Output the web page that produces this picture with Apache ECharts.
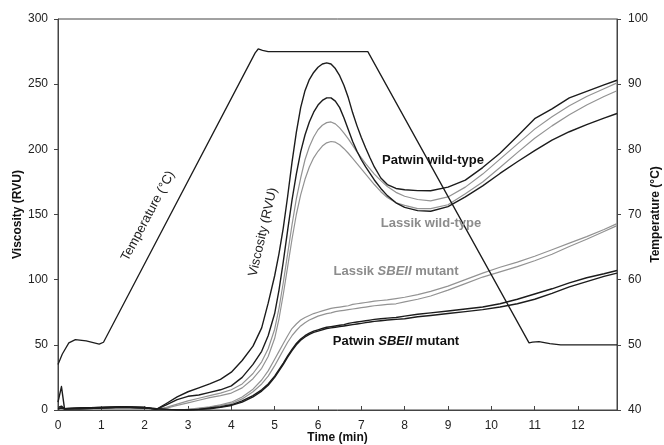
<!DOCTYPE html>
<html>
<head>
<meta charset="utf-8">
<script src="https://cdn.jsdelivr.net/npm/echarts@6/dist/echarts.min.js"></script>
<style>html,body{margin:0;padding:0;background:#fff}#c{width:664px;height:445px}</style>
</head>
<body>
<div id="c"></div>
<script>
// ---------- data ----------
const timeMin = [0, 0.08, 0.15, 0.5, 1.0, 1.5, 2.0, 2.27, 2.5, 2.75,
  3.0, 3.25, 3.5, 3.75, 4.0, 4.25, 4.5, 4.7, 4.85, 5.0,
  5.1, 5.2, 5.3, 5.4, 5.5, 5.6, 5.7, 5.8, 5.9, 6.0,
  6.1, 6.2, 6.3, 6.4, 6.5, 6.6, 6.7, 6.8, 6.9, 7.0,
  7.1, 7.2, 7.3, 7.45, 7.6, 7.8, 8.0, 8.3, 8.6, 9.0,
  9.4, 9.8, 10.2, 10.6, 11.0, 11.4, 11.8, 12.2, 12.6, 12.9];

const patwinWT1 = [6, 18, 1, 1.5, 2, 2.5, 2, 0.5, 5, 10,
  14, 17, 20, 23.5, 29, 38, 49, 63, 82, 103,
  120, 140, 164, 190, 213, 232, 245, 253.5, 259, 263,
  265.5, 266.3, 265.5, 262, 256.5, 249, 239.5, 228, 218, 209,
  201, 193.5, 186.5, 178, 173, 170, 169, 168.3, 168.2, 171,
  176.4, 186, 197, 210, 223.5, 231, 239.5, 244.5, 249.5, 253];

const patwinWT2 = [2, 3, 1, 1.5, 2, 2.5, 2, 0.5, 4, 8,
  10.5, 11.5, 13.5, 15.5, 18.5, 25, 35, 45, 57, 74,
  92, 114, 138, 161, 181, 198, 211, 221, 228.5, 234,
  237.5, 239.5, 239.5, 237, 232, 224, 215, 206, 198.5, 192,
  186.5, 181.5, 176.5, 170, 164.5, 159, 155.5, 153, 152.5, 156,
  163.5, 172, 181.5, 190.5, 199, 207, 213.5, 219, 224, 227.5];

const lassikWT1 = [2, 2, 1, 1.5, 2, 2.5, 2, 0.5, 2, 4.5,
  7, 9, 11, 13, 15.5, 20, 28, 37, 47, 62,
  78, 98, 120, 142, 162, 178, 192, 202, 209.5, 215,
  218.5, 220.5, 221, 219.5, 216.5, 212.5, 208, 203, 198, 193.5,
  189, 185, 181, 176, 171.5, 167, 164, 161.5, 160.5, 163.5,
  171, 181, 192.5, 204, 215.5, 225, 233.5, 240.5, 246.5, 251];

const lassikWT2 = [2, 2, 1, 1.5, 2, 2.5, 2, 0.5, 1.5, 3.5,
  5.5, 7.5, 9.5, 11, 13, 17, 24, 32, 41, 55,
  70, 89, 110, 131, 150, 165, 177, 186.5, 193.5, 198.5,
  202.5, 205, 206, 205.5, 203.5, 200.5, 197, 193, 189, 185,
  181, 177, 173, 167.5, 163, 159, 157, 154.5, 154.5, 157.5,
  166, 175, 186, 197.5, 208.5, 218, 226.5, 234, 240.5, 245];

const lassikSBE1 = [1, 1.5, 1, 1, 1.5, 2, 1.5, 1, 0.5, 0,
  0.5, 1.5, 2.5, 4, 6, 10, 16, 23, 30, 39,
  45, 51, 57, 62.5, 66, 69, 71, 72.5, 74, 75,
  76, 77, 78, 78.5, 79, 79.5, 80, 81, 81.5, 82,
  82.5, 83, 83.5, 84, 84.5, 85.5, 86.5, 88.5, 91, 95,
  100, 105, 109.5, 113.5, 118, 123, 128, 133, 138.5, 143];

const lassikSBE2 = [1, 1.5, 1, 1, 1.5, 2, 1.5, 1, 0.5, 0,
  0.5, 1, 2, 3.5, 5, 8.5, 14, 20, 26, 34,
  40, 46, 52, 57, 61, 64.5, 67, 69, 70.5, 72,
  73, 74, 74.5, 75.5, 76, 76.5, 77, 77.5, 78, 78.5,
  79, 79.5, 80, 80.5, 81, 81.5, 83, 85, 87.5, 92,
  97, 102, 106, 110, 114.5, 119.5, 125.5, 131, 137, 141.5];

const patwinSBE1 = [1, 1.5, 1, 1, 1.5, 2, 1.5, 1, 0.5, 0,
  0, 0.5, 1.5, 2.5, 4, 7, 11, 15.5, 20, 26,
  31, 36, 41.5, 46.5, 51, 54.5, 57, 59, 60.5, 61.5,
  62.5, 63.5, 64, 64.5, 65, 65.5, 66.5, 67, 67.5, 68,
  68.5, 69, 69.5, 70, 70.5, 71, 72, 73.5, 74.5, 76,
  77.5, 79, 81.5, 85, 89, 93, 97.5, 101.5, 104.5, 107];

const patwinSBE2 = [1, 1.5, 1, 1, 1.5, 2, 1.5, 1, 0.5, 0,
  0, 0.5, 1, 2, 3.5, 6, 10, 14.5, 19, 25,
  30, 35, 40.5, 45.5, 50, 53.5, 56, 58, 59.5, 60.5,
  61.5, 62.5, 63, 63.5, 64, 64.5, 65, 65.5, 66, 66.5,
  67, 67.5, 68, 68.5, 69, 69.5, 70, 71.5, 72.5, 74,
  75.5, 77, 79, 81.5, 85, 89.5, 94.5, 98.5, 102.5, 105];

const tempTime = [0, 0.1, 0.25, 0.4, 0.65, 0.95, 1.05, 4.55, 4.62, 4.72, 4.85, 7.15, 10.87, 10.95, 11.1, 11.35, 11.6, 12.9];
const tempC    = [47, 48.6, 50.3, 50.8, 50.6, 50.1, 50.4, 94.8, 95.4, 95.2, 95.0, 95.0, 50.3, 50.4, 50.5, 50.2, 50.0, 50.0];

const xTicks = [0, 1, 2, 3, 4, 5, 6, 7, 8, 9, 10, 11, 12];

// ---------- chart ----------
const FONT = "'Liberation Sans', Arial, Helvetica, sans-serif";
const BLACK = '#1c1c1c';
const GRAY = '#939393';
const GRAYTXT = '#8c8c8c';
const AX = '#444';

function pairs(xs, ys) { return xs.map((x, i) => [x, ys[i]]); }
function vSeries(name, vals, color, w, z) {
  return {
    name, type: 'line', data: pairs(timeMin, vals), yAxisIndex: 0,
    showSymbol: false, symbol: 'none', smooth: false,
    lineStyle: { color, width: w, join: 'round' }, silent: true, z
  };
}

const chart = echarts.init(document.getElementById('c'));
chart.setOption({
  animation: false,
  textStyle: { fontFamily: FONT },
  grid: { left: 58, right: 47, top: 19, bottom: 35, outerBoundsMode: 'none', containLabel: false,
    show: true, borderColor: AX, borderWidth: 1, backgroundColor: 'transparent' },
  xAxis: {
    type: 'value', min: 0, max: 12.9, interval: 1,
    name: 'Time (min)', nameLocation: 'middle', nameGap: 22, nameMoveOverlap: false,
    nameTextStyle: { fontFamily: FONT, fontWeight: 'bold', fontSize: 12, color: '#111' },
    axisLine: { lineStyle: { color: AX, width: 1 } },
    axisTick: { inside: true, length: 4, lineStyle: { color: AX }, customValues: xTicks },
    axisLabel: { fontFamily: FONT, fontSize: 12, color: '#222', margin: 10, customValues: xTicks,
      formatter: v => (Number.isInteger(v) ? String(v) : '') },
    splitLine: { show: false }
  },
  yAxis: [
    {
      type: 'value', min: 0, max: 300, interval: 50, position: 'left',
      name: 'Viscosity (RVU)', nameLocation: 'middle', nameGap: 34, nameRotate: 90, nameMoveOverlap: false,
      nameTextStyle: { fontFamily: FONT, fontWeight: 'bold', fontSize: 12, color: '#111' },
      axisLine: { show: true, lineStyle: { color: AX, width: 1 } },
      axisTick: { show: true, inside: false, length: 4, lineStyle: { color: AX } },
      axisLabel: { fontFamily: FONT, fontSize: 12, color: '#222', margin: 10 },
      splitLine: { show: false }
    },
    {
      type: 'value', min: 40, max: 100, interval: 10, position: 'right',
      name: 'Temperature (°C)', nameLocation: 'middle', nameGap: 33, nameRotate: 90, nameMoveOverlap: false,
      nameTextStyle: { fontFamily: FONT, fontWeight: 'bold', fontSize: 12, color: '#111' },
      axisLine: { show: true, lineStyle: { color: AX, width: 1 } },
      axisTick: { show: true, inside: false, length: 4, lineStyle: { color: AX } },
      axisLabel: { fontFamily: FONT, fontSize: 12, color: '#222', margin: 11 },
      splitLine: { show: false }
    }
  ],
  series: [
    vSeries('Lassik wild-type 1', lassikWT1, GRAY, 1.2, 2),
    vSeries('Lassik wild-type 2', lassikWT2, GRAY, 1.2, 2),
    vSeries('Lassik SBEII mutant 1', lassikSBE1, GRAY, 1.2, 2),
    vSeries('Lassik SBEII mutant 2', lassikSBE2, GRAY, 1.2, 2),
    vSeries('Patwin wild-type 1', patwinWT1, BLACK, 1.4, 3),
    vSeries('Patwin wild-type 2', patwinWT2, BLACK, 1.4, 3),
    vSeries('Patwin SBEII mutant 1', patwinSBE1, BLACK, 1.4, 3),
    vSeries('Patwin SBEII mutant 2', patwinSBE2, BLACK, 1.4, 3),
    {
      name: 'Temperature', type: 'line', yAxisIndex: 1, data: pairs(tempTime, tempC),
      showSymbol: false, symbol: 'none', smooth: false,
      lineStyle: { color: BLACK, width: 1.3 }, silent: true, z: 4
    }
  ],
  graphic: [
    { type: 'text', x: 148, y: 216, rotation: 62 * Math.PI / 180, z: 10,
      style: { text: 'Temperature (°C)', fontFamily: FONT, fontSize: 13, fill: '#222', align: 'center', verticalAlign: 'middle' } },
    { type: 'text', x: 263, y: 232, rotation: 77 * Math.PI / 180, z: 10,
      style: { text: 'Viscosity (RVU)', fontFamily: FONT, fontSize: 13, fill: '#222', align: 'center', verticalAlign: 'middle' } },
    { type: 'text', x: 433, y: 160, z: 10,
      style: { text: 'Patwin wild-type', fontFamily: FONT, fontSize: 13, fontWeight: 'bold', fill: '#111', align: 'center', verticalAlign: 'middle' } },
    { type: 'text', x: 431, y: 223, z: 10,
      style: { text: 'Lassik wild-type', fontFamily: FONT, fontSize: 13, fontWeight: 'bold', fill: GRAYTXT, align: 'center', verticalAlign: 'middle' } },
    { type: 'text', x: 396, y: 271, z: 10,
      style: { text: 'Lassik {i|SBEII} mutant', fontFamily: FONT, fontSize: 13, fontWeight: 'bold', fill: GRAYTXT, align: 'center', verticalAlign: 'middle',
        rich: { i: { fontFamily: FONT, fontSize: 13, fontWeight: 'bold', fontStyle: 'italic', fill: GRAYTXT } } } },
    { type: 'text', x: 396, y: 341, z: 10,
      style: { text: 'Patwin {i|SBEII} mutant', fontFamily: FONT, fontSize: 13, fontWeight: 'bold', fill: '#111', align: 'center', verticalAlign: 'middle',
        rich: { i: { fontFamily: FONT, fontSize: 13, fontWeight: 'bold', fontStyle: 'italic', fill: '#111' } } } }
  ]
});
</script>
</body>
</html>
